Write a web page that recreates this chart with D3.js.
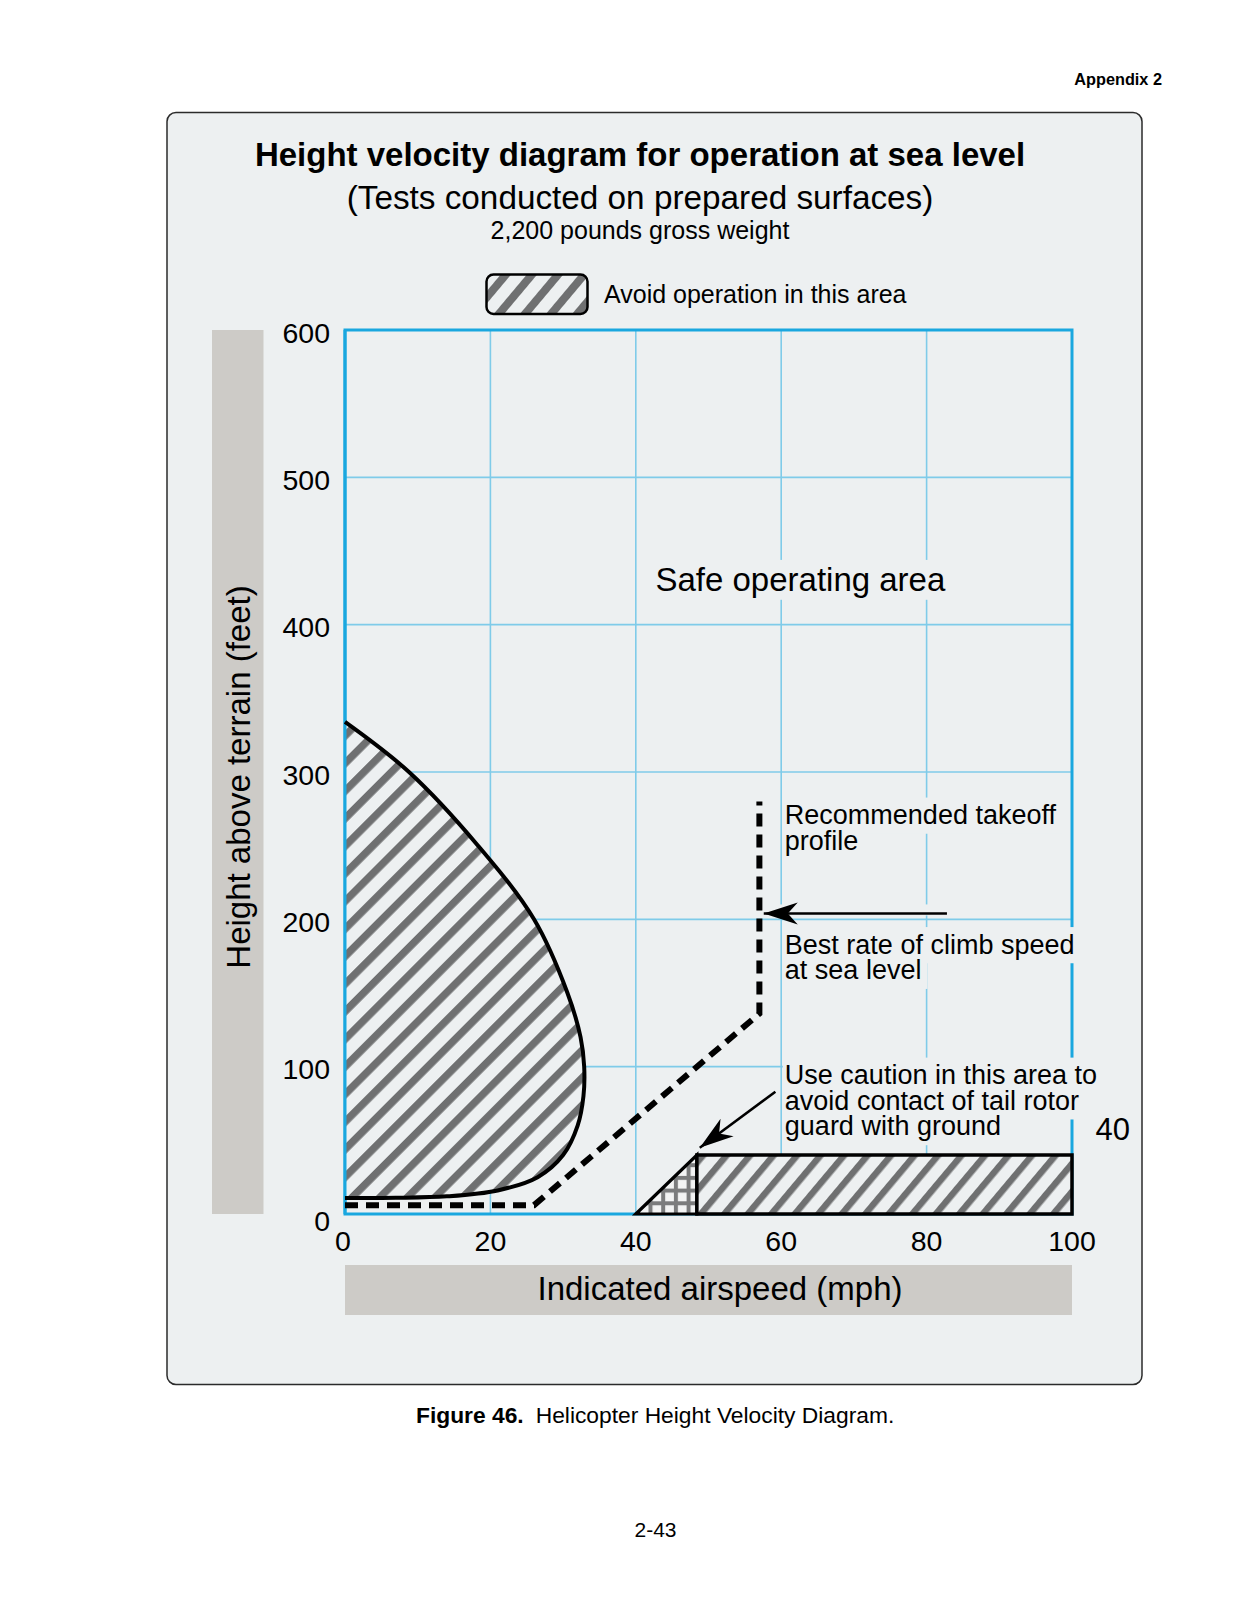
<!DOCTYPE html>
<html lang="en">
    <head>
        <meta charset="utf-8">
        <title>Height Velocity Diagram</title>
        <script src="https://d3js.org/d3.v7.min.js"></script>
        <style type="text/css">
            body {
                margin: 0;
                background: white;
            }
            text {
                font-family: "Liberation Sans", Arial, Helvetica, sans-serif;
                fill: black;
            }
            .title {
                font-size: 33px;
                font-weight: bold;
            }
            .subtitle {
                font-size: 33.3px;
            }
            .weight, .legend {
                font-size: 25px;
            }
            .tick {
                font-size: 28.5px;
            }
            .axisLabel, .safe {
                font-size: 33px;
            }
            .note {
                font-size: 27px;
            }
            .grid {
                stroke: #7fcbe9;
                stroke-width: 1.6px;
            }
        </style>
    </head>
    <body>
        <svg width="1238" height="1613"></svg>
        <script type="text/javascript">

            // chart data, mph / feet
            const xTicks = [0, 20, 40, 60, 80, 100];
            const yTicks = [0, 100, 200, 300, 400, 500, 600];

            // boundary of the avoid area near the hover
            const avoidCurve = [
                [0, 334], [8.8, 300], [18.3, 250], [26, 200], [30.6, 150],
                [32.4, 120], [32.9, 100], [32.8, 80], [32, 60], [30, 40],
                [26.5, 25], [21, 16], [14, 12], [7, 11], [0, 10.9]
            ];
            const takeoffProfile = [[0, 6], [26, 6], [57, 136], [57, 280]];
            const cautionTriangle = [[40, 0], [48.4, 40], [48.4, 0]];
            const avoidRect = [[48.4, 0], [48.4, 40], [100, 40], [100, 0]];
            const climbArrow = [[82.8, 204], [57.6, 204]];
            const cautionArrow = [[59.2, 83], [48.8, 45]];

            const notes = [
                {lines: ["Recommended takeoff", "profile"], x: 60.5, y: 264.7},
                {lines: ["Best rate of climb speed", "at sea level"], x: 60.5, y: 176.8},
                {lines: ["Use caution in this area to", "avoid contact of tail rotor", "guard with ground"], x: 60.5, y: 88.2}
            ];
            const safeLabel = {text: "Safe operating area", x: 42.7, y: 423};
            const rectLabel = {text: "40", x: 105.6, y: 50.5};

            const bg = "#edf0f1";
            const hatchGrey = "#6f7071";
            const blue = "#1aa7df";

            const svg = d3.select("svg");

            //scales
            const x = d3.scaleLinear().domain([0, 100]).range([345, 1072]);
            const y = d3.scaleLinear().domain([0, 600]).range([1214, 330]);

            //patterns
            const defs = svg.append("defs");
            function stripes(id, angle, size, w) {
                const p = defs.append("pattern")
                    .attr("id", id)
                    .attr("patternUnits", "userSpaceOnUse")
                    .attr("width", size)
                    .attr("height", size)
                    .attr("patternTransform", "rotate(" + angle + ")");
                p.append("rect").attr("width", size).attr("height", size).attr("fill", bg);
                p.append("rect").attr("width", w).attr("height", size).attr("fill", hatchGrey);
            }
            stripes("hatchCurve", 45, 19.5, 7.5);
            stripes("hatchRect", 40, 18, 6.5);
            stripes("hatchLegend", 40, 20, 8);

            const cross = defs.append("pattern")
                .attr("id", "cross")
                .attr("patternUnits", "userSpaceOnUse")
                .attr("width", 12.7)
                .attr("height", 12.7)
                .attr("x", x(40))
                .attr("y", y(0));
            cross.append("rect").attr("width", 12.7).attr("height", 12.7).attr("fill", "#f3f4f4");
            cross.append("rect").attr("width", 4).attr("height", 12.7).attr("fill", "#7b7c7d");
            cross.append("rect").attr("width", 12.7).attr("height", 4).attr("fill", "#7b7c7d");

            defs.append("marker")
                .attr("id", "head")
                .attr("markerUnits", "userSpaceOnUse")
                .attr("viewBox", "-36 -12 38 24")
                .attr("refX", 0)
                .attr("refY", 0)
                .attr("markerWidth", 38)
                .attr("markerHeight", 24)
                .attr("orient", "auto")
                .append("path")
                .attr("d", "M0,0 L-34,-11 L-24,0 L-34,11 Z")
                .attr("fill", "black");

            //page + panel
            svg.append("rect").attr("width", 1238).attr("height", 1613).attr("fill", "white");
            svg.append("rect")
                .attr("x", 167).attr("y", 112.5)
                .attr("width", 975).attr("height", 1272)
                .attr("rx", 9)
                .attr("fill", bg)
                .attr("stroke", "#2b2b2b")
                .attr("stroke-width", 1.5);

            svg.append("text")
                .attr("x", 1162).attr("y", 84.5)
                .attr("text-anchor", "end")
                .attr("font-weight", "bold")
                .attr("font-size", 16.3)
                .text("Appendix 2");

            //titles
            svg.append("text").attr("class", "title")
                .attr("x", 640).attr("y", 165.5).attr("text-anchor", "middle")
                .text("Height velocity diagram for operation at sea level");
            svg.append("text").attr("class", "subtitle")
                .attr("x", 640).attr("y", 209).attr("text-anchor", "middle")
                .text("(Tests conducted on prepared surfaces)");
            svg.append("text").attr("class", "weight")
                .attr("x", 640).attr("y", 238.5).attr("text-anchor", "middle")
                .text("2,200 pounds gross weight");

            //legend
            svg.append("rect")
                .attr("x", 486.5).attr("y", 274.5)
                .attr("width", 101).attr("height", 39.5)
                .attr("rx", 7)
                .attr("fill", "url(#hatchLegend)")
                .attr("stroke", "black")
                .attr("stroke-width", 2.5);
            svg.append("text").attr("class", "legend")
                .attr("x", 604).attr("y", 302.5)
                .text("Avoid operation in this area");

            //axis bands
            svg.append("rect")
                .attr("x", 212).attr("y", y(600))
                .attr("width", 51.5).attr("height", y(0) - y(600))
                .attr("fill", "#cdcbc7");
            svg.append("text").attr("class", "axisLabel")
                .attr("transform", "translate(249.5,777) rotate(-90)")
                .attr("text-anchor", "middle")
                .text("Height above terrain (feet)");

            svg.append("rect")
                .attr("x", x(0)).attr("y", 1265)
                .attr("width", x(100) - x(0)).attr("height", 50)
                .attr("fill", "#cdcbc7");
            svg.append("text").attr("class", "axisLabel")
                .attr("x", 720).attr("y", 1300)
                .attr("text-anchor", "middle")
                .text("Indicated airspeed (mph)");

            //layers
            const gGrid = svg.append("g");
            const gKnock = svg.append("g");
            const gMarks = svg.append("g");
            const gText = svg.append("g");

            //grid
            gGrid.selectAll("line.vx")
                .data(xTicks.slice(1, -1))
                .enter().append("line")
                .attr("class", "grid")
                .attr("x1", d => x(d)).attr("x2", d => x(d))
                .attr("y1", y(600)).attr("y2", y(0));
            gGrid.selectAll("line.hy")
                .data(yTicks.slice(1, -1))
                .enter().append("line")
                .attr("class", "grid")
                .attr("x1", x(0)).attr("x2", x(100))
                .attr("y1", d => y(d)).attr("y2", d => y(d));
            gGrid.append("rect")
                .attr("x", x(0)).attr("y", y(600))
                .attr("width", x(100) - x(0)).attr("height", y(0) - y(600))
                .attr("fill", "none")
                .attr("stroke", blue)
                .attr("stroke-width", 3);

            //tick labels
            gText.selectAll("text.xt")
                .data(xTicks)
                .enter().append("text")
                .attr("class", "tick")
                .attr("x", d => d === 0 ? x(d) - 2 : x(d))
                .attr("y", 1251)
                .attr("text-anchor", "middle")
                .text(d => d);
            gText.selectAll("text.yt")
                .data(yTicks)
                .enter().append("text")
                .attr("class", "tick")
                .attr("x", 330)
                .attr("y", d => y(d) + (d === 0 ? 16.5 : 12.5))
                .attr("text-anchor", "end")
                .text(d => d);

            const line = d3.line().x(d => x(d[0])).y(d => y(d[1]));

            //avoid area (hover)
            const curveLine = d3.line()
                .x(d => x(d[0])).y(d => y(d[1]))
                .curve(d3.curveCatmullRom.alpha(0.5));
            gMarks.append("path")
                .attr("d", curveLine(avoidCurve) + "Z")
                .attr("fill", "url(#hatchCurve)");
            gMarks.append("line")
                .attr("x1", x(0)).attr("x2", x(0))
                .attr("y1", y(600)).attr("y2", y(0))
                .attr("stroke", blue)
                .attr("stroke-width", 3);
            gMarks.append("path")
                .attr("d", curveLine(avoidCurve))
                .attr("fill", "none")
                .attr("stroke", "black")
                .attr("stroke-width", 4);

            //caution zone + avoid rectangle
            gMarks.append("path")
                .attr("d", line(cautionTriangle) + "Z")
                .attr("fill", "url(#cross)")
                .attr("stroke", "black")
                .attr("stroke-width", 3.2)
                .attr("stroke-linejoin", "miter");
            gMarks.append("path")
                .attr("d", line(avoidRect) + "Z")
                .attr("fill", "url(#hatchRect)")
                .attr("stroke", "black")
                .attr("stroke-width", 3.5);

            //takeoff profile
            gMarks.append("path")
                .attr("d", line(takeoffProfile))
                .attr("fill", "none")
                .attr("stroke", "black")
                .attr("stroke-width", 6)
                .attr("stroke-dasharray", "13 8");

            //arrows
            [climbArrow, cautionArrow].forEach(a => {
                gMarks.append("path")
                    .attr("d", line(a))
                    .attr("fill", "none")
                    .attr("stroke", "black")
                    .attr("stroke-width", 2.5)
                    .attr("marker-end", "url(#head)");
            });

            // knockout box behind a text line, hides grid lines
            function knock(x0, base, w, size, l, r, t, b) {
                gKnock.append("rect")
                    .attr("x", x0 - l).attr("y", base - 0.905 * size - t)
                    .attr("width", w + l + r).attr("height", 1.117 * size + t + b)
                    .attr("fill", bg);
            }

            //notes, one text per block
            const noteSize = 27;
            const lineHeight = 25.7;
            notes.forEach(n => {
                const t = gText.append("text")
                    .attr("class", "note")
                    .attr("x", x(n.x))
                    .attr("y", y(n.y));
                n.lines.forEach((s, i) => {
                    const ts = t.append("tspan")
                        .attr("x", x(n.x))
                        .attr("y", y(n.y) + i * lineHeight)
                        .text(s);
                    knock(x(n.x), y(n.y) + i * lineHeight, ts.node().getComputedTextLength(), noteSize, 2, 6, 2, 4);
                });
            });
            gKnock.append("rect")
                .attr("x", x(climbArrow[1][0]) + 4)
                .attr("y", y(climbArrow[0][1]) - 9)
                .attr("width", x(climbArrow[0][0]) - x(climbArrow[1][0]))
                .attr("height", 11)
                .attr("fill", bg);

            const safe = gText.append("text")
                .attr("class", "safe")
                .attr("x", x(safeLabel.x))
                .attr("y", y(safeLabel.y))
                .text(safeLabel.text);
            knock(x(safeLabel.x), y(safeLabel.y), safe.node().getComputedTextLength(), 33, 3, 3, 1, 2);

            gText.append("text")
                .attr("x", x(rectLabel.x))
                .attr("y", y(rectLabel.y))
                .attr("text-anchor", "middle")
                .attr("font-size", 31)
                .text(rectLabel.text);

            //caption
            const cap = svg.append("text")
                .attr("x", 416).attr("y", 1423)
                .attr("font-size", 22.8);
            cap.append("tspan").attr("font-weight", "bold").text("Figure 46.");
            cap.append("tspan").attr("dx", 12).text("Helicopter Height Velocity Diagram.");

            svg.append("text")
                .attr("x", 655.5).attr("y", 1537)
                .attr("text-anchor", "middle")
                .attr("font-size", 21)
                .text("2-43");

        </script>
    </body>
</html>
